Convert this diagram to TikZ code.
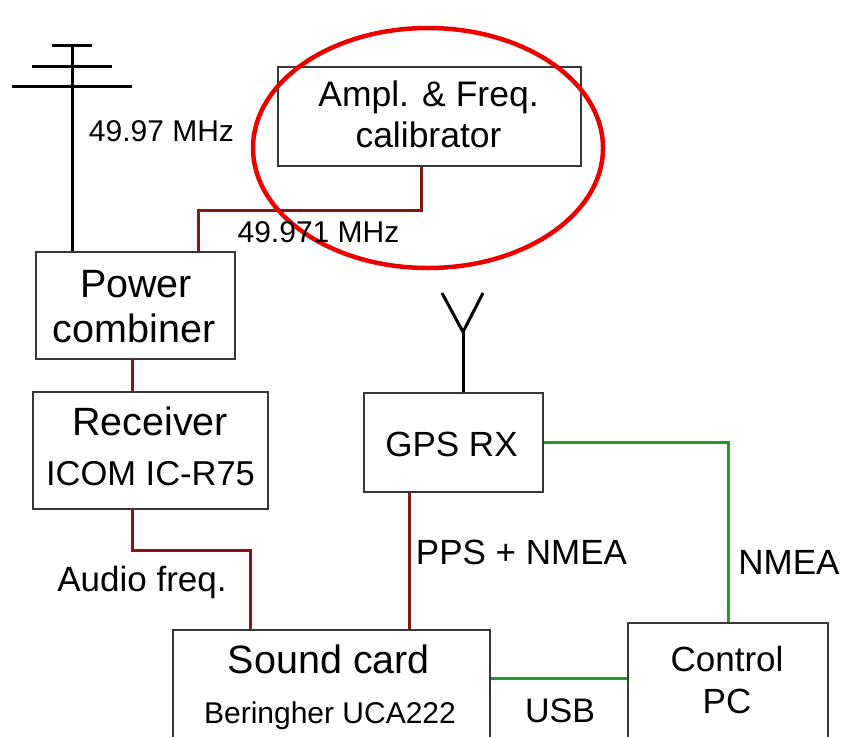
\documentclass[tikz,border=0pt]{standalone}
\usepackage{fontspec}
\setmainfont{Liberation Sans}
\usetikzlibrary{shapes.geometric}
\definecolor{rfred}{RGB}{135,22,22}
\definecolor{usbgreen}{RGB}{40,150,40}
\definecolor{boxgray}{RGB}{55,55,55}
\definecolor{ringred}{RGB}{235,0,0}
\tikzset{
  box/.style={draw=boxgray, line width=2pt, fill=white, inner sep=0pt, anchor=north west},
  rfline/.style={draw=rfred, line width=3pt},
  gline/.style={draw=usbgreen, line width=3pt},
  antline/.style={draw=black, line width=3pt},
  ring/.style={draw=ringred, line width=4.5pt},
  txt/.style={anchor=base, inner sep=0pt, text=black},
}
\newcommand{\fs}[1]{\fontsize{#1}{#1}\selectfont}
\begin{document}
\begin{tikzpicture}[x=1pt, y=-1pt]
\useasboundingbox (0,0) rectangle (845,736);
\clip (0,0) rectangle (845,736);
% boxes
\node[box, minimum width=199pt, minimum height=107pt] (pc) at (35,251) {};
\node[box, minimum width=235pt, minimum height=117pt] (rx) at (32,391) {};
\node[box, minimum width=303pt, minimum height=99pt] (cal) at (277,66) {};
\node[box, minimum width=179pt, minimum height=99pt] (gps) at (363,392) {};
\node[box, minimum width=317pt, minimum height=140pt] (sc) at (172,629) {};
\node[box, minimum width=200pt, minimum height=140pt] (ctl) at (627,622) {};
% helper coordinates
\coordinate (antTop) at (72,45);
\coordinate (k1) at (421,210);
\coordinate (k2) at (198,210);
\coordinate (k3) at (132,550);
\coordinate (k4) at (250,550);
\coordinate (k5) at (409,560);
\coordinate (k6) at (0,678);
\coordinate (gant) at (463,332);
\coordinate (gl) at (442,293);
\coordinate (gr) at (483,293);
% main antenna
\draw[antline] (antTop) -- (antTop |- pc.north);
\draw[antline] (52,45) -- (92,45);
\draw[antline] (32,66) -- (112,66);
\draw[antline] (12,86) -- (132,86);
% GPS antenna
\draw[antline] (gps.north -| gant) -- (gant);
\draw[antline] (gl) -- (gant) -- (gr);
% RF lines
\draw[rfline] (cal.south -| k1) -- (k1) -- (k2) -- (k2 |- pc.north);
\draw[rfline] (pc.south -| k3) -- (rx.north -| k3);
\draw[rfline] (rx.south -| k3) -- (k3) -- (k4) -- (k4 |- sc.north);
\draw[rfline] (gps.south -| k5) -- (sc.north -| k5);
% green lines
\draw[gline] (gps.east) -| (ctl.north);
\draw[gline] (sc.east |- k6) -- (ctl.west |- k6);
% ring
\node[ring, ellipse, minimum width=350pt, minimum height=240pt, inner sep=0pt] (ell) at (428,148) {};
% texts
\node[txt] (t1) at (161.5,141) {\fs{30}49.97 MHz};
\node[txt] (t2) at (318.5,242) {\fs{30}49.971 MHz};
\node[txt] (cal1) at (428.5,106) {\fs{35.5}Ampl. \& Freq.};
\node[txt] (cal2) at (428.5,147) {\fs{35.5}calibrator};
\node[txt] (pc1) at (136,297) {\fs{39.5}Power};
\node[txt] (pc2) at (134,342) {\fs{39.5}combiner};
\node[txt] (rx1) at (150,435) {\fs{39.5}Receiver};
\node[txt] (rx2) at (150.5,485) {\fs{34.5}ICOM IC-R75};
\node[txt] (gps1) at (451.5,456) {\fs{35}GPS RX};
\node[txt] (pps) at (521.5,564) {\fs{35}PPS + NMEA};
\node[txt] (nmea) at (789,574) {\fs{35}NMEA};
\node[txt] (audio) at (142,591) {\fs{35}Audio freq.};
\node[txt] (sc1) at (329,673) {\fs{39.5}Sound card};
\node[txt] (sc2) at (330,723) {\fs{30}Beringher UCA222};
\node[txt] (usb) at (560,722) {\fs{34}USB};
\node[txt] (ctl1) at (727,671) {\fs{35}Control};
\node[txt] (ctl2) at (727,713) {\fs{35}PC};
\end{tikzpicture}
\end{document}
